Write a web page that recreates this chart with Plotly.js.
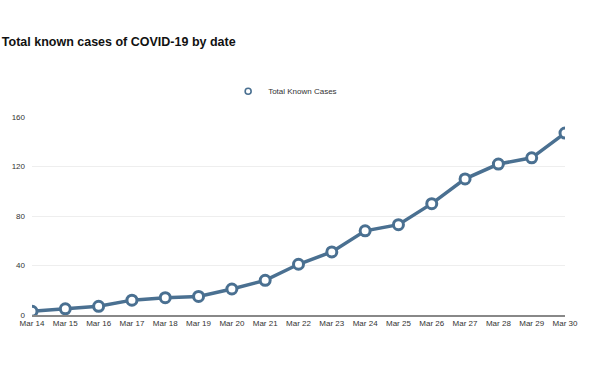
<!DOCTYPE html>
<html>
<head>
<meta charset="utf-8">
<script src="https://cdn.plot.ly/plotly-3.0.1.min.js"></script>
<style>html,body{margin:0;padding:0;background:#fff;}#chart{width:600px;height:370px;}</style>
</head>
<body>
<div id="chart"></div>
<script>
var dates = ["Mar 14","Mar 15","Mar 16","Mar 17","Mar 18","Mar 19","Mar 20","Mar 21","Mar 22","Mar 23","Mar 24","Mar 25","Mar 26","Mar 27","Mar 28","Mar 29","Mar 30"];
var totalCases = [3,5,7,12,14,15,21,28,41,51,68,73,90,110,122,127,147];
var yTicks = [0,40,80,120,160];
var seriesName = "Total Known Cases";
var chartTitle = "Total known cases of COVID-19 by date";

var lineColor = "#4a7091";
var traces = [
  // small-marker copy carries the legend entry (fully hidden under the main markers)
  {x: dates, y: totalCases, type: "scatter", mode: "markers", name: seriesName, hoverinfo: "skip",
   marker: {symbol: "circle", size: 6, color: "#ffffff", line: {color: lineColor, width: 1.6}}},
  {x: dates, y: totalCases, type: "scatter", mode: "lines", showlegend: false, hoverinfo: "skip",
   line: {color: lineColor, width: 3.5}},
  {x: dates, y: totalCases, type: "scatter", mode: "markers", name: seriesName, showlegend: false,
   marker: {symbol: "circle", size: 10, color: "#ffffff", line: {color: lineColor, width: 3}}}
];
var layout = {
  width: 600, height: 370,
  margin: {l: 32, r: 35, t: 117, b: 55},
  paper_bgcolor: "#fff", plot_bgcolor: "#fff",
  font: {family: "Liberation Sans, Arial, sans-serif", size: 8, color: "#333"},
  title: {text: "<b>" + chartTitle + "</b>", x: 0.003, xanchor: "left", xref: "container",
          y: 0.887, yanchor: "middle", yref: "container", font: {size: 12.5, color: "#111"}},
  showlegend: true,
  legend: {orientation: "h", x: 0.368, xanchor: "left", y: 1.13, yanchor: "middle",
           font: {size: 8, color: "#333"}, itemsizing: "trace", itemwidth: 30},
  xaxis: {type: "category", range: [0, 16], showgrid: false, zeroline: false,
          showline: true, linecolor: "#888", linewidth: 1.5, ticks: "", tickfont: {size: 8, color: "#333"},
          fixedrange: true},
  yaxis: {range: [0, 160], tickvals: yTicks, showgrid: true, gridcolor: "#eeeeee", gridwidth: 1,
          zeroline: false, showline: false, ticks: "", ticklabelstandoff: 6,
          tickfont: {size: 8, color: "#333"}, fixedrange: true}
};
Plotly.newPlot("chart", traces, layout, {displayModeBar: false, staticPlot: true});
</script>
</body>
</html>
